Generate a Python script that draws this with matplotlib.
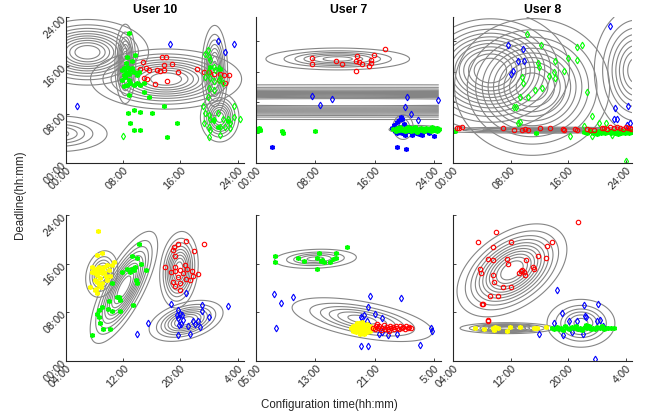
import numpy as np
import matplotlib.pyplot as plt

plt.rcParams['font.family'] = ['Liberation Sans', 'DejaVu Sans']

# ---------------- data (hours) ----------------
# top row: User 10, User 7, User 8 (24h day axis)
p1_red = [(10.8, 16.6), (11.2, 15.6), (10.4, 15.4), (11.6, 15.3), (10.9, 14.0), (11.4, 13.8),
          (12.5, 13.0), (13.4, 17.5), (14.0, 17.4), (13.7, 16.1), (14.8, 16.2), (13.1, 15.1),
          (13.7, 15.3), (12.7, 15.3), (14.1, 13.5), (15.7, 15.0), (18.3, 15.5), (19.3, 15.0),
          (20.0, 14.9), (20.7, 14.6), (21.5, 14.7), (22.1, 14.5), (22.8, 14.5), (21.4, 13.7),
          (22.3, 13.2)]
p1_blue_dia = [(1.6, 9.4), (14.5, 19.5), (21.3, 20.0), (23.5, 19.6), (22.3, 18.3)]
p1_green_star = [(7.8, 15.3), (8.1, 15.6), (8.4, 15.0), (8.5, 15.8), (8.8, 14.7), (8.1, 14.5),
                 (8.3, 14.2), (9.0, 15.3), (9.2, 15.6), (9.5, 15.0), (7.8, 13.7), (8.1, 12.6),
                 (8.5, 12.8), (9.0, 13.1), (9.5, 12.8), (9.9, 13.1), (10.4, 12.8), (10.9, 13.1),
                 (8.4, 16.4), (9.2, 16.7), (9.6, 17.8), (8.5, 17.5), (9.9, 14.5), (10.2, 15.0),
                 (8.8, 13.7), (8.8, 21.4), (8.7, 8.2), (9.0, 6.5), (9.5, 5.4), (10.3, 5.4),
                 (12.0, 8.3), (13.7, 9.4), (15.5, 6.5), (14.1, 4.3), (11.6, 10.8), (9.5, 8.7),
                 (10.4, 8.4), (10.9, 11.6), (8.8, 11.2), (20.2, 15.8), (21.6, 15.4), (20.6, 7.0),
                 (21.2, 6.0), (22.6, 6.9)]
p1_green_dia = [(8.0, 4.4), (19.8, 18.6), (19.5, 18.0), (20.0, 17.5), (20.2, 16.9), (20.7, 15.8),
                (20.9, 15.3), (21.4, 15.6), (19.8, 15.0), (19.5, 14.2), (20.2, 13.9), (20.7, 13.4),
                (20.0, 12.3), (19.8, 10.9), (20.7, 12.0), (21.4, 13.7), (21.6, 13.9), (21.9, 13.1),
                (19.2, 9.4), (19.5, 8.2), (20.0, 7.9), (20.2, 7.3), (20.7, 7.1), (21.2, 8.2),
                (21.9, 7.3), (22.6, 7.3), (23.0, 6.5), (23.5, 7.6), (24.4, 7.3), (19.3, 6.5),
                (20.0, 6.0), (20.2, 5.4), (21.6, 6.0), (22.3, 6.0), (23.0, 5.7), (21.6, 4.6),
                (20.0, 4.3), (23.5, 9.3)]
# gaussian components: (mean x, mean y, sd x, sd y, corr, number of levels)
p1_comps = [(14.0, 13.8, 4.7, 2.2, 0.0, 10), (3.0, 18.2, 3.8, 2.4, 0.0, 10),
            (8.3, 16.3, 0.65, 2.9, 0.0, 8), (20.8, 15.2, 0.8, 3.3, 0.0, 8),
            (21.5, 7.5, 1.2, 1.8, 0.0, 8), (-1.0, 4.8, 3.0, 1.3, 0.0, 5)]

p2_red = [(7.5, 17.3), (7.5, 16.2), (10.8, 16.8), (11.6, 16.3), (13.6, 17.6), (13.5, 16.8),
          (13.8, 16.6), (14.3, 16.3), (13.4, 15.2), (15.2, 16.0), (15.5, 17.0), (15.5, 16.4),
          (15.9, 17.8), (17.3, 18.7)]
p2_blue_dia = [(7.5, 11.0), (10.2, 10.5), (8.6, 9.5), (20.3, 10.9), (20.0, 9.2), (20.9, 8.0),
               (21.8, 7.1), (24.5, 10.4)]
p2_blue_star = [(18.6, 6.3), (19.0, 6.7), (19.2, 6.0), (19.5, 5.4), (19.7, 4.9), (19.0, 4.9),
                (19.9, 6.4), (20.4, 6.0), (20.7, 5.4), (21.0, 4.6), (21.5, 4.9), (21.9, 4.8),
                (22.4, 4.6), (22.6, 5.2), (23.3, 4.9), (24.0, 4.4), (19.2, 7.1), (19.7, 7.3),
                (18.7, 5.2), (20.1, 4.6), (20.6, 5.2), (18.3, 5.8), (19.5, 7.5), (2.1, 2.7),
                (19.0, 2.7), (20.2, 2.3)]
p2_green_star = [(0.1, 5.5), (0.3, 5.6), (0.2, 5.3), (0.5, 5.5), (0.4, 5.7), (0.6, 5.4),
                 (3.5, 5.3), (3.7, 5.0), (8.0, 5.3), (18.5, 5.6), (18.8, 5.3), (19.0, 5.8),
                 (19.3, 5.5), (19.4, 5.9), (19.7, 5.4), (19.9, 5.6), (20.1, 5.2), (20.2, 5.7),
                 (20.4, 5.5), (20.6, 5.4), (20.8, 5.8), (20.9, 5.3), (21.1, 5.6), (21.3, 5.5),
                 (21.4, 5.9), (21.6, 5.3), (21.9, 5.6), (22.0, 5.4), (22.2, 5.7), (22.3, 5.5),
                 (22.6, 5.3), (22.8, 5.6), (22.9, 5.8), (23.1, 5.4), (23.3, 5.5), (23.5, 5.7),
                 (23.6, 5.3), (23.9, 5.5), (24.0, 5.6), (24.2, 5.4), (24.4, 5.7), (24.5, 5.5),
                 (24.6, 5.6), (24.3, 5.2), (23.7, 5.9), (21.7, 5.1), (20.5, 6.0)]
p2_comps = [(11.0, 17.1, 4.3, 0.8, 0.0, 6), (12.0, 10.0, 60.0, 1.27, 0.0, 12),
            (21.5, 5.5, 1.6, 0.3, 0.0, 4), (19.8, 5.9, 0.6, 0.9, 0.0, 4)]

p3_red = [(0.5, 5.7), (0.9, 5.8), (1.2, 5.9), (7.0, 5.8), (8.5, 5.4), (9.6, 5.4), (10.0, 5.6),
          (10.4, 5.5), (12.1, 5.7), (13.5, 5.8), (15.3, 5.6), (15.5, 5.4), (17.0, 5.6),
          (17.3, 5.4), (18.7, 5.6), (19.0, 5.4), (19.6, 5.5), (20.7, 5.7), (21.0, 5.8),
          (21.4, 5.6), (21.9, 5.9), (22.4, 5.7), (22.8, 6.0), (23.3, 5.8), (23.7, 5.6),
          (24.0, 5.9), (24.3, 5.7), (24.6, 5.8), (24.8, 5.6)]
p3_green_dia = [(10.3, 21.2), (12.2, 19.4), (9.6, 14.2), (9.8, 13.1), (11.9, 15.8), (11.8, 16.5),
                (14.2, 16.7), (14.0, 15.0), (13.3, 14.3), (14.2, 14.0), (15.5, 15.2), (16.0, 17.2),
                (17.2, 19.0), (18.0, 19.4), (17.2, 16.9), (11.4, 12.0), (12.4, 12.3), (10.4, 10.8),
                (9.3, 10.8), (8.5, 9.2), (8.8, 9.2), (9.1, 6.5), (9.3, 6.8), (18.6, 11.6),
                (19.4, 7.7), (20.3, 6.5), (21.3, 6.5), (18.2, 6.1), (16.3, 4.4), (19.4, 4.4),
                (22.1, 4.6), (24.0, 0.3)]
p3_green_star = [(0.3, 5.3), (11.6, 5.0), (18.2, 5.1), (18.6, 5.0), (19.1, 5.2), (19.5, 4.9),
                 (19.9, 5.1), (20.3, 5.3), (20.6, 5.0), (20.9, 5.2), (21.2, 4.9), (21.5, 5.1),
                 (21.8, 5.3), (22.0, 5.0), (22.3, 5.2), (22.6, 4.9), (22.9, 5.1), (23.1, 5.3),
                 (23.4, 5.0), (23.6, 5.2), (23.9, 4.9), (24.1, 5.1), (24.3, 5.3), (24.5, 5.0),
                 (24.7, 5.2), (24.9, 5.1), (20.0, 4.8), (23.0, 4.8)]
p3_blue_dia = [(7.7, 19.4), (9.7, 18.7), (9.1, 16.7), (9.9, 16.7), (8.3, 15.2), (8.0, 14.6),
               (21.8, 22.5), (22.6, 9.0), (24.3, 9.4), (22.4, 7.3), (22.8, 7.2), (24.6, 6.6),
               (24.2, 6.3)]
p3_comps = [(5.2, 15.2, 4.9, 4.4, 0.0, 12), (11.0, 12.5, 4.8, 5.0, 0.0, 10),
            (25.5, 15.2, 2.6, 4.6, 0.0, 8), (12.5, 5.4, 7.0, 0.22, 0.0, 5)]

# bottom row: x axis shifted (hours past midnight, >24 is next day)
p4_yellow_star = [(7.7, 15.5), (8.0, 15.0), (8.2, 15.2), (8.4, 14.7), (8.6, 15.5), (8.9, 15.0),
                  (9.1, 14.4), (8.4, 14.1), (8.0, 14.4), (7.6, 14.7), (9.3, 15.5), (9.8, 15.8),
                  (10.0, 15.0), (10.5, 15.8), (10.7, 16.3), (9.6, 13.9), (10.2, 13.9),
                  (8.4, 13.0), (8.6, 12.5), (8.2, 11.9), (8.9, 12.2), (9.1, 12.8), (9.8, 13.3),
                  (8.4, 11.1), (8.0, 11.7), (9.3, 14.7), (8.7, 13.6), (8.1, 13.3), (8.5, 21.3),
                  (9.1, 17.7), (8.3, 17.4), (7.4, 12.2)]
p4_green_star = [(14.2, 19.3), (13.2, 17.2), (13.9, 17.0), (12.6, 15.2), (13.2, 15.2), (13.6, 15.5),
                 (13.5, 15.0), (14.5, 15.9), (15.2, 15.0), (13.0, 14.7), (11.8, 14.7),
                 (13.8, 13.3), (13.9, 12.9), (11.1, 10.6), (11.4, 10.6), (11.6, 10.0),
                 (10.5, 12.8), (10.0, 9.8), (9.1, 8.9), (8.4, 7.8), (8.6, 8.4), (9.9, 8.5),
                 (10.5, 8.3), (11.6, 8.3), (8.7, 6.3), (9.2, 5.2), (10.1, 5.2), (7.7, 4.2),
                 (13.4, 9.2), (8.6, 7.3)]
p4_red = [(19.1, 18.8), (19.7, 19.3), (19.0, 18.2), (19.2, 17.3), (20.8, 19.8), (21.9, 18.1),
          (23.3, 19.3), (17.8, 15.5), (19.3, 15.5), (19.3, 14.8), (20.0, 15.0), (20.7, 15.8),
          (20.9, 15.1), (21.6, 14.8), (21.8, 13.9), (22.4, 14.3), (18.7, 14.7), (18.9, 13.0),
          (19.3, 12.3), (20.0, 12.9), (20.8, 13.4), (21.4, 13.3), (19.9, 11.6), (20.3, 14.4),
          (19.6, 13.8)]
p4_blue_dia = [(18.7, 9.3), (19.6, 8.4), (19.9, 7.8), (19.5, 7.6), (20.2, 7.6), (19.6, 7.0),
               (20.1, 6.1), (21.0, 5.8), (19.6, 4.3), (21.3, 4.5), (21.8, 6.5), (22.1, 6.1),
               (22.5, 6.5), (23.0, 8.3), (23.0, 9.2), (24.0, 7.3), (22.7, 5.6), (26.7, 9.1),
               (20.8, 11.1), (15.5, 6.3), (13.9, 4.4), (19.8, 5.9), (20.4, 6.7)]
p4_comps = [(9.0, 14.3, 1.0, 1.7, 0.2, 6), (12.1, 12.1, 2.1, 4.1, 0.75, 10),
            (19.8, 15.0, 1.2, 2.8, 0.15, 9), (20.8, 6.6, 2.3, 1.5, 0.4, 8)]

p5_green_star = [(7.5, 17.2), (7.5, 16.2), (10.7, 16.9), (11.4, 16.4), (13.2, 16.9), (13.5, 17.7),
                 (13.2, 15.2), (13.9, 16.6), (14.1, 16.3), (15.0, 16.3), (15.3, 16.7),
                 (15.8, 16.9), (15.8, 17.8), (17.2, 18.8), (13.7, 16.4)]
p5_blue_dia = [(7.4, 11.0), (8.3, 9.6), (10.0, 10.6), (7.7, 5.4), (20.4, 10.7), (24.5, 10.4),
               (20.1, 8.9), (21.0, 7.8), (21.9, 7.1), (19.1, 7.3), (19.5, 7.6), (19.3, 7.0),
               (20.0, 6.5), (20.2, 5.9), (19.8, 5.4), (21.6, 4.5), (22.7, 4.3), (22.0, 4.8),
               (24.0, 4.5), (19.1, 2.5), (20.1, 2.5), (27.1, 2.6), (28.6, 5.4), (28.7, 5.0)]
p5_yellow_star = [(17.8, 5.4), (18.0, 5.0), (18.1, 5.8), (18.3, 5.3), (18.4, 6.0), (18.5, 4.7),
                  (18.7, 5.5), (18.8, 5.1), (18.9, 6.2), (19.0, 4.5), (19.1, 5.7), (19.2, 5.2),
                  (19.3, 4.9), (19.4, 5.9), (19.5, 5.4), (19.6, 4.4), (19.7, 5.6), (19.8, 5.1),
                  (19.9, 6.1), (20.0, 4.8), (20.1, 5.3), (20.3, 5.7), (20.4, 5.0), (20.6, 5.4),
                  (18.6, 6.3), (19.3, 6.4)]
p5_red = [(20.8, 5.5), (21.0, 5.2), (21.2, 5.8), (21.4, 5.4), (21.6, 5.7), (21.8, 5.1),
          (22.0, 5.5), (22.2, 5.9), (22.4, 5.3), (22.6, 5.6), (22.8, 5.2), (23.0, 5.8),
          (23.2, 5.4), (23.4, 5.6), (23.6, 5.3), (23.8, 5.7), (24.0, 5.5), (24.2, 5.2),
          (24.4, 5.8), (24.6, 5.4), (24.8, 5.6), (25.0, 5.3), (25.2, 5.7), (25.4, 5.5),
          (25.6, 5.6), (25.9, 5.4), (21.3, 6.1), (22.9, 5.0)]
p5_comps = [(13.0, 16.8, 2.45, 0.7, 0.15, 5), (19.3, 6.8, 4.2, 1.6, -0.55, 6)]

p6_red = [(7.5, 19.5), (9.5, 18.7), (10.0, 21.2), (12.1, 19.5), (17.1, 18.9), (17.8, 19.5),
          (8.8, 16.8), (9.6, 16.6), (11.5, 16.7), (11.7, 15.9), (14.2, 16.6), (15.8, 17.3),
          (16.9, 17.0), (7.8, 15.1), (7.9, 14.5), (9.5, 14.1), (13.2, 14.4), (13.6, 15.0),
          (13.9, 14.7), (14.0, 14.1), (15.1, 15.5), (15.2, 15.1), (9.7, 13.0), (10.9, 12.1),
          (12.1, 12.2), (9.2, 10.7), (10.2, 10.7), (8.0, 9.4), (8.2, 9.3), (8.9, 6.8),
          (8.9, 6.5), (21.4, 22.8), (13.4, 14.8)]
p6_yellow_star = [(7.1, 5.4), (8.3, 5.2), (9.5, 5.4), (9.7, 5.1), (9.9, 5.6), (10.2, 5.4),
                  (11.5, 5.0), (11.9, 5.6), (13.3, 5.6), (15.2, 5.5), (15.4, 5.4), (15.7, 5.5),
                  (17.0, 5.6)]
p6_blue_dia = [(18.4, 11.7), (19.1, 7.9), (22.2, 9.2), (24.2, 9.3), (22.4, 7.4), (22.5, 7.2),
               (21.3, 6.5), (20.2, 6.5), (24.0, 6.5), (24.4, 6.8), (24.9, 5.8), (18.0, 6.2),
               (15.9, 4.5), (19.3, 4.3), (20.6, 4.8), (22.1, 4.4), (23.7, 0.3)]
p6_green_star = [(17.8, 5.4), (18.1, 5.2), (18.4, 5.6), (18.7, 5.3), (19.0, 5.5), (19.3, 5.1),
                 (19.6, 5.7), (19.9, 5.4), (20.2, 5.2), (20.5, 5.6), (20.8, 5.4), (21.1, 5.8),
                 (21.4, 5.3), (21.7, 5.5), (22.0, 5.1), (22.3, 5.6), (22.6, 5.4), (22.9, 5.7),
                 (23.2, 5.3), (23.5, 5.5), (23.8, 5.2), (24.1, 5.6), (24.4, 5.4), (24.7, 5.8),
                 (25.0, 5.3), (25.3, 5.5), (25.6, 5.4), (26.0, 5.5), (26.4, 5.4), (22.5, 5.9)]
p6_comps = [(12.2, 14.9, 3.4, 3.4, 0.45, 11), (11.5, 5.4, 2.9, 0.4, 0.0, 8),
            (21.8, 6.2, 2.1, 1.75, 0.0, 6)]

titles = ['User 10', 'User 7', 'User 8']
top_xticks = [0, 8, 16, 24]
top_xlabels = ['00:00', '08:00', '16:00', '24:00']
bl_xticks = [4, 12, 20, 28]
bl_xlabels = ['04:00', '12:00', '20:00', '4:00']
bm_xticks = [5, 13, 21, 29]
bm_xlabels = ['05:00', '13:00', '21:00', '5:00']
day_yticks = [0, 8, 16, 24]
day_ylabels = ['00:00', '08:00', '16:00', '24:00']
top_minor_yticks = [0, 5, 10, 15, 20]

RED, BLUE, GREEN, YELLOW = '#ff0000', '#0000ff', '#00ff00', '#ffff00'
ASTER = (6, 2, 0)


def draw_components(ax, comps, xr, yr):
    xs = np.linspace(xr[0], xr[1], 400)
    ys = np.linspace(yr[0], yr[1], 400)
    X, Y = np.meshgrid(xs, ys)
    for mx, my, sx, sy, rho, n in comps:
        dx = (X - mx) / sx
        dy = (Y - my) / sy
        q = (dx ** 2 - 2 * rho * dx * dy + dy ** 2) / (1 - rho ** 2)
        Z = np.exp(-q / 2)
        ax.contour(X, Y, Z, levels=np.linspace(0.08, 0.9, n), colors='#858585',
                   linewidths=0.8)


def draw_points(ax, pts, color, kind):
    x, y = np.array(pts).T
    if kind == 'o':
        ax.plot(x, y, 'o', ms=3.2, mfc='none', mec=color, mew=0.8, ls='none')
    elif kind == 'd':
        ax.plot(x, y, 'd', ms=3.4, mfc='none', mec=color, mew=0.8, ls='none')
    else:
        ax.plot(x, y, marker=ASTER, ms=3.6, mfc=color, mec=color, mew=1.1, ls='none')


def style_axis(ax):
    for s in ['top', 'right']:
        ax.spines[s].set_visible(False)
    for s in ['left', 'bottom']:
        ax.spines[s].set_color('#262626')
        ax.spines[s].set_linewidth(0.8)
    ax.tick_params(direction='in', length=2.5, width=0.6, colors='#262626',
                   labelsize=7.8, pad=1.5)


fig = plt.figure(figsize=(6.51, 4.16), dpi=100)
W, H = 651.0, 416.0
col_px = [(66, 178), (256, 185), (453, 179)]
row_px = [(17, 163), (215, 361)]

panels = [
    # (row, col, xlim, contour x range, comps, series)
    (0, 0, (0, 24.9), (0, 24.9), p1_comps,
     [(p1_red, RED, 'o'), (p1_blue_dia, BLUE, 'd'), (p1_green_dia, GREEN, 'd'),
      (p1_green_star, GREEN, '*')]),
    (0, 1, (0, 24.9), (0, 24.6), p2_comps,
     [(p2_red, RED, 'o'), (p2_blue_dia, BLUE, 'd'), (p2_blue_star, BLUE, '*'),
      (p2_green_star, GREEN, '*')]),
    (0, 2, (0, 24.9), (0, 24.9), p3_comps,
     [(p3_blue_dia, BLUE, 'd'), (p3_green_dia, GREEN, 'd'), (p3_green_star, GREEN, '*'),
      (p3_red, RED, 'o')]),
    (1, 0, (4, 28.9), (4, 28.9), p4_comps,
     [(p4_yellow_star, YELLOW, '*'), (p4_green_star, GREEN, '*'), (p4_red, RED, 'o'),
      (p4_blue_dia, BLUE, 'd')]),
    (1, 1, (5, 29.9), (5, 29.9), p5_comps,
     [(p5_green_star, GREEN, '*'), (p5_blue_dia, BLUE, 'd'), (p5_yellow_star, YELLOW, '*'),
      (p5_red, RED, 'o')]),
    (1, 2, (4, 28.9), (4, 28.9), p6_comps,
     [(p6_red, RED, 'o'), (p6_yellow_star, YELLOW, '*'), (p6_blue_dia, BLUE, 'd'),
      (p6_green_star, GREEN, '*')]),
]

for row, col, xlim, xr, comps, series in panels:
    left, width = col_px[col]
    top, bottom = row_px[row]
    ax = fig.add_axes([left / W, 1 - bottom / H, width / W, (bottom - top) / H])
    draw_components(ax, comps, xr, (0, 24))
    for pts, color, kind in series:
        draw_points(ax, pts, color, kind)
    ax.set_xlim(*xlim)
    ax.set_ylim(0, 24)
    style_axis(ax)

    if row == 0:
        ax.set_xticks(top_xticks)
        ax.set_xticklabels(top_xlabels)
        ax.set_title(titles[col], fontsize=8.8, fontweight='bold', pad=3)
    elif col == 1:
        ax.set_xticks(bm_xticks)
        ax.set_xticklabels(bm_xlabels)
    else:
        ax.set_xticks(bl_xticks)
        ax.set_xticklabels(bl_xlabels)

    if col == 0:
        ax.set_yticks(day_yticks)
        ax.set_yticklabels(day_ylabels)
    elif row == 0:
        ax.set_yticks(top_minor_yticks)
        ax.set_yticklabels([])
    else:
        ax.set_yticks(day_yticks)
        ax.set_yticklabels([])

    for lab in ax.get_xticklabels():
        lab.set_rotation(45)
        lab.set_ha('right')
        lab.set_rotation_mode('anchor')
    for lab in ax.get_yticklabels():
        lab.set_rotation(45)
        lab.set_ha('right')
        lab.set_rotation_mode('anchor')

fig.text(20 / W, 1 - 195 / H, 'Deadline(hh:mm)', rotation=90, ha='center', va='center',
         fontsize=8.3, color='#262626')
fig.text(329 / W, 1 - 405 / H, 'Configuration time(hh:mm)', ha='center', va='center',
         fontsize=8.3, color='#262626')

fig.savefig('out.png', dpi=100)
